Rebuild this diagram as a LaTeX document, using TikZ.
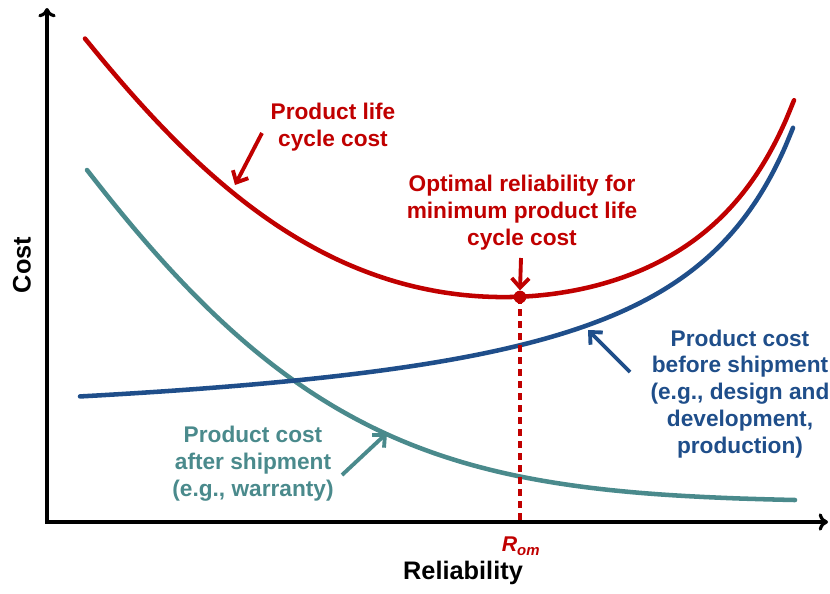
\documentclass[tikz,border=0pt]{standalone}
\usepackage{fontspec}
\setmainfont{Liberation Sans}
\usepackage{xcolor}
\usetikzlibrary{positioning,arrows.meta}
\definecolor{lccred}{HTML}{C00000}
\definecolor{preblue}{HTML}{1F4E8A}
\definecolor{postteal}{HTML}{4A8A8C}
\tikzset{
  axis/.style  ={line width=2.4pt, {To[length=7pt,width=13pt]}-{To[length=7pt,width=13pt]}},
  curve/.style ={line width=3.4pt, line cap=round},
  note/.style  ={font=\fontsize{17}{20.2}\selectfont\bfseries, align=center, inner sep=0pt},
  label/.style ={font=\fontsize{19}{22}\selectfont\bfseries, inner sep=0pt},
  arrow/.style ={line width=2.9pt, -{Straight Barb[length=7pt,width=13pt]}},
  guide/.style ={line width=2.6pt, dash pattern=on 5.5pt off 3.5pt}
}

\begin{document}
\begin{tikzpicture}[x=0.75pt,y=-0.75pt,
    declare function={
      aftercost(\x)=20+332*exp(-(0.3887*((\x-87)/100)+0.04705*((\x-87)/100)^2));
      beforecost(\x)=79.6+383.77/((915-\x)/100);
      lifecost(\x)=aftercost(\x)+beforecost(\x)+3;
    }]
  \useasboundingbox (0,0) rectangle (830,593);
  % axes
  \coordinate (O) at (47,522);
  \coordinate (ytop) at (47,8);
  \coordinate (xend) at (828,522);
  \draw[axis] (ytop) -- (O) -- (xend);
  \node[label, rotate=90] (ylab) at (22,265) {Cost};
  \node[label] (xlab) at (463,573) {Reliability};
  % cost curves (heights above the x axis)
  \draw[curve, postteal] plot[domain=87:795, samples=80, smooth] (\x, {522-aftercost(\x)});
  \draw[curve, preblue] plot[domain=80:793, samples=80, smooth] (\x, {522-beforecost(\x)});
  \draw[curve, lccred] plot[domain=85:794, samples=80, smooth] (\x, {522-lifecost(\x)});
  % optimum
  \node[circle, fill=lccred, inner sep=0pt, minimum size=9.5pt] (opt) at (520,297) {};
  \draw[guide, lccred] (opt.center) -- (opt |- O);
  \node[font=\fontsize{16}{18}\selectfont\bfseries\itshape, text=lccred] (Rom) at (521,546) {R\textsubscript{om}};
  % labels
  \node[note, text=lccred] (lcc) at (333,127) {Product life\\cycle cost};
  \node[note, text=lccred] (optlab) at (522,213) {Optimal reliability for\\minimum product life\\cycle cost};
  \node[note, text=preblue] (prelab) at (740,394) {Product cost\\before shipment\\(e.g., design and\\development,\\production)};
  \node[note, text=postteal] (postlab) at (253,464) {Product cost\\after shipment\\(e.g., warranty)};
  % pointers
  \coordinate (lccTail) at (262,133);  \coordinate (lccTip) at (235,185);
  \coordinate (optTail) at (521,258);
  \coordinate (preTail) at (630,372);  \coordinate (preTip) at (588,330);
  \coordinate (postTail) at (342,475); \coordinate (postTip) at (387,433);
  \draw[arrow, lccred] (lccTail) -- (lccTip);
  \draw[arrow, lccred] (optTail) -- (opt.north);
  \draw[arrow, preblue] (preTail) -- (preTip);
  \draw[arrow, postteal] (postTail) -- (postTip);
\end{tikzpicture}
\end{document}
